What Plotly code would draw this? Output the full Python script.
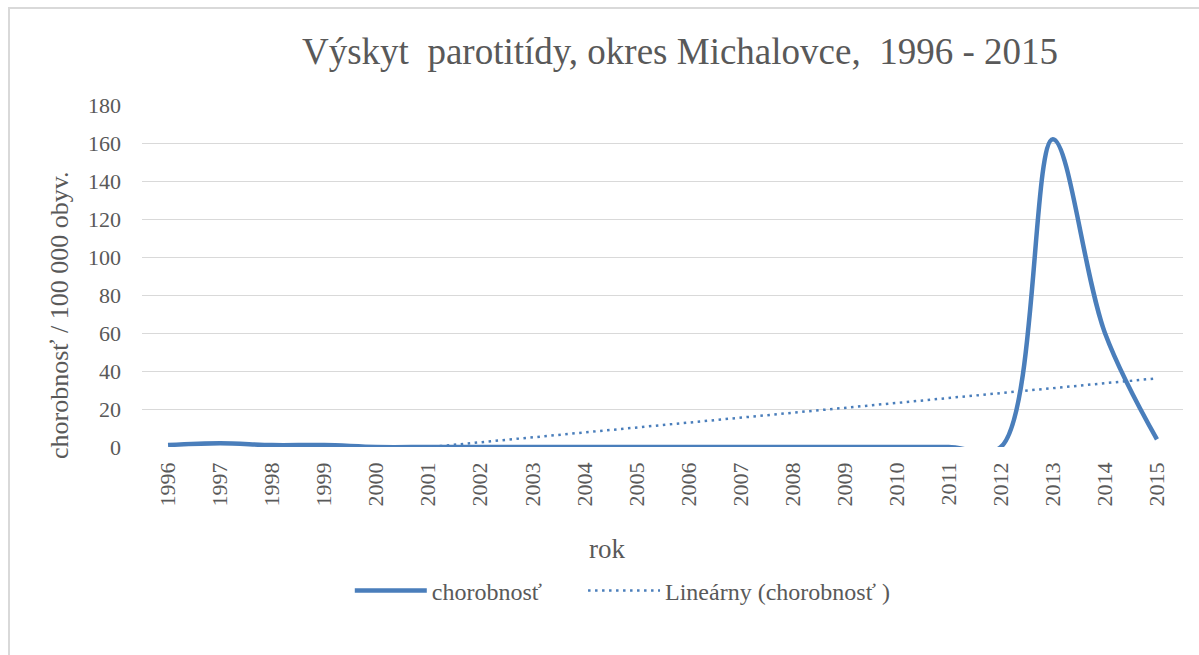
import numpy as np
import plotly.graph_objects as go

years = [str(y) for y in range(1996, 2016)]
chorobnost = [1, 2, 1, 1, 0, 0, 0, 0, 0, 0, 0, 0, 0, 0, 0, 0, 0, 162, 60, 4]
y_ticks = [0, 20, 40, 60, 80, 100, 120, 140, 160, 180]

title_text = "Výskyt&nbsp;&nbsp;parotitídy, okres Michalovce,&nbsp;&nbsp;1996 - 2015"
y_title = "chorobnosť / 100 000 obyv."
x_title = "rok"
series_name = "chorobnosť"
trend_name = "Lineárny (chorobnosť )"

# Excel-style linear trend computed from the data
idx = np.arange(1, len(chorobnost) + 1)
slope, intercept = np.polyfit(idx, chorobnost, 1)
trend = slope * idx + intercept

BLUE = "#4a7ebb"
GRAY = "#595959"
FONT = "Liberation Serif"

W, H = 1199, 655
L, R, T, B = 142, 16, 105, 208
pw, ph = W - L - R, H - T - B


def px(xp):
    return (xp - L) / pw


def py(yp):
    return (H - B - yp) / ph


fig = go.Figure()
fig.add_trace(go.Scatter(
    x=years, y=chorobnost, mode="lines",
    name=series_name + "&nbsp;" * 6,
    line=dict(color=BLUE, width=4.5, shape="spline", smoothing=1.0),
))
fig.add_trace(go.Scatter(
    x=years, y=trend, mode="lines", name=trend_name,
    line=dict(color=BLUE, width=2.5, dash="2.5px,4.5px"),
))

fig.update_layout(
    width=W, height=H,
    margin=dict(l=L, r=R, t=T, b=B),
    paper_bgcolor="white", plot_bgcolor="white",
    font=dict(family=FONT, color=GRAY, size=22),
    title=dict(text=title_text, x=px(680), xref="paper", xanchor="center",
               y=1 - 51 / H, yanchor="middle",
               font=dict(size=37, color=GRAY, family=FONT)),
    showlegend=True,
    legend=dict(orientation="h", x=px(355) - 0.005, xanchor="left", y=py(591), yanchor="middle",
                font=dict(size=24, color=GRAY, family=FONT), itemwidth=72,
                bgcolor="rgba(0,0,0,0)"),
    xaxis=dict(
        type="category", range=[-0.5, len(years) - 0.5],
        tickangle=-90, showgrid=False, showline=False, ticks="",
        ticklabelstandoff=10,
        tickfont=dict(size=22, color=GRAY, family=FONT),
        zeroline=False,
    ),
    yaxis=dict(
        range=[0, 180], tickvals=y_ticks, showgrid=True, gridcolor="#d9d9d9", gridwidth=1,
        showline=False, ticks="", zeroline=False,
        ticklabelstandoff=20,
        tickfont=dict(size=22, color=GRAY, family=FONT),
    ),
    annotations=[
        dict(text=y_title, textangle=-90, xref="paper", yref="paper",
             x=px(59), y=py(316), xanchor="center", yanchor="middle", showarrow=False,
             font=dict(size=26, color=GRAY, family=FONT)),
        dict(text=x_title, xref="paper", yref="paper",
             x=px(607), y=py(549), xanchor="center", yanchor="middle", showarrow=False,
             font=dict(size=27, color=GRAY, family=FONT)),
    ],
    shapes=[dict(type="rect", xref="paper", yref="paper",
                 x0=px(9), x1=px(1215), y0=py(700), y1=py(8),
                 line=dict(color="#d9d9d9", width=2), fillcolor="rgba(0,0,0,0)", layer="below")],
)

fig.write_html("out.html", config={"displayModeBar": False},
               post_script="document.body.style.margin='0px';")
